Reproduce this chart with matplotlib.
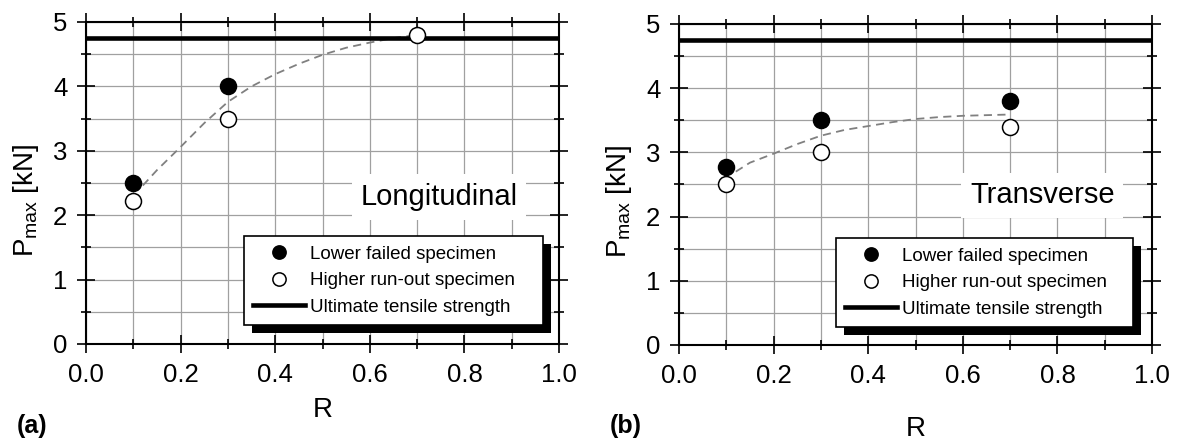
import matplotlib
matplotlib.use('Agg')
import matplotlib.pyplot as plt
from matplotlib.patches import Rectangle
from matplotlib.ticker import MultipleLocator, FormatStrFormatter

plt.rcParams['font.family'] = ['Liberation Sans', 'DejaVu Sans']
plt.rcParams['mathtext.fontset'] = 'custom'
plt.rcParams['mathtext.rm'] = 'Liberation Sans'

# stress ratios tested
r_vals = [0.1, 0.3, 0.7]

# (a) longitudinal
long_failed_r = [0.1, 0.3]
long_failed = [2.5, 4.0]
long_runout = [2.22, 3.5, 4.8]
long_fit_r = [0.12, 0.15, 0.2, 0.25, 0.3, 0.35, 0.4, 0.45, 0.5, 0.55, 0.6, 0.65, 0.7]
long_fit = [2.46, 2.70, 3.06, 3.43, 3.76, 4.00, 4.19, 4.35, 4.49, 4.60, 4.68, 4.75, 4.80]

# (b) transverse
trans_failed = [2.77, 3.5, 3.8]
trans_runout = [2.5, 3.0, 3.4]
trans_fit_r = [0.12, 0.15, 0.2, 0.25, 0.3, 0.35, 0.4, 0.45, 0.5, 0.55, 0.6, 0.65, 0.7]
trans_fit = [2.70, 2.84, 2.98, 3.13, 3.26, 3.35, 3.41, 3.47, 3.52, 3.55, 3.57, 3.58, 3.59]

uts = 4.75

fig = plt.figure(figsize=(11.77, 4.41), dpi=100)
ax1 = fig.add_axes([0.0731, 0.2200, 0.4019, 0.7302])
ax2 = fig.add_axes([0.5769, 0.2177, 0.4019, 0.7279])


def setup(ax):
    ax.set_xlim(0, 1)
    ax.set_ylim(0, 5)
    ax.xaxis.set_major_locator(MultipleLocator(0.2))
    ax.xaxis.set_minor_locator(MultipleLocator(0.1))
    ax.xaxis.set_major_formatter(FormatStrFormatter('%.1f'))
    ax.yaxis.set_major_locator(MultipleLocator(1))
    ax.yaxis.set_minor_locator(MultipleLocator(0.5))
    ax.grid(True, which='both', color='#a0a0a0', lw=0.9, zorder=0)
    ax.set_axisbelow(True)
    ax.tick_params(which='both', direction='inout', top=True, right=True,
                   width=1.2, labelsize=18.5, pad=7)
    ax.tick_params(which='major', length=13)
    ax.tick_params(which='minor', length=7)
    for s in ax.spines.values():
        s.set_linewidth(1.5)
    ax.set_xlabel('R', fontsize=20)
    ax.set_ylabel(r'P$_{\mathrm{max}}$ [kN]', fontsize=20)
    ax.yaxis.set_label_coords(-0.095, 0.447)


def panel(ax, fit_r, fit, failed_r, failed, runout, name, name_x, name_y, xl_y, leg_box):
    setup(ax)
    ax.plot(fit_r, fit, color='#808080', lw=1.3, ls=(0, (4.5, 3)), zorder=2)
    ax.axhline(uts, color='black', lw=3.3, zorder=3, label='Ultimate tensile strength')
    ax.plot(failed_r, failed, 'o', ms=11.5, mfc='black', mec='black', mew=1.1,
            zorder=4, label='Lower failed specimen')
    ax.plot(r_vals, runout, 'o', ms=11.5, mfc='white', mec='black', mew=1.1,
            zorder=4, label='Higher run-out specimen')
    ax.text(name_x, name_y, name, transform=ax.transAxes, fontsize=21,
            ha='center', va='baseline', zorder=2.5,
            bbox=dict(boxstyle='square,pad=0.3', fc='white', ec='none'))
    ax.xaxis.set_label_coords(0.5, xl_y)

    h, l = ax.get_legend_handles_labels()
    order = [1, 2, 0]
    leg = ax.legend([h[i] for i in order], [l[i] for i in order],
                    loc='lower left', bbox_to_anchor=leg_box, mode='expand',
                    borderaxespad=0, fontsize=13.5, markerscale=0.83,
                    handlelength=2.8, handletextpad=0.25, labelspacing=0.5,
                    borderpad=0.5, fancybox=False, framealpha=1,
                    edgecolor='black')
    leg.get_frame().set_linewidth(1.2)
    leg.set_zorder(6)
    return leg


leg1 = panel(ax1, long_fit_r, long_fit, long_failed_r, long_failed, long_runout,
             'Longitudinal', 0.746, 0.432, -0.166, (0.333, 0.059, 0.632, 0.28))
leg2 = panel(ax2, trans_fit_r, trans_fit, r_vals, trans_failed, trans_runout,
             'Transverse', 0.768, 0.441, -0.222, (0.331, 0.055, 0.629, 0.28))

# black drop shadow behind each legend box
fig.canvas.draw()
for ax, leg in ((ax1, leg1), (ax2, leg2)):
    bb = leg.get_window_extent().translated(8, -8)
    bb = bb.transformed(ax.transAxes.inverted())
    ax.add_patch(Rectangle((bb.x0, bb.y0), bb.width, bb.height,
                           transform=ax.transAxes, fc='black', ec='none',
                           zorder=5.5, clip_on=False))

fig.text(0.0144, 0.007, '(a)', fontsize=18, fontweight='bold', ha='left', va='bottom')
fig.text(0.518, 0.007, '(b)', fontsize=18, fontweight='bold', ha='left', va='bottom')

fig.savefig('out.png', dpi=100)
